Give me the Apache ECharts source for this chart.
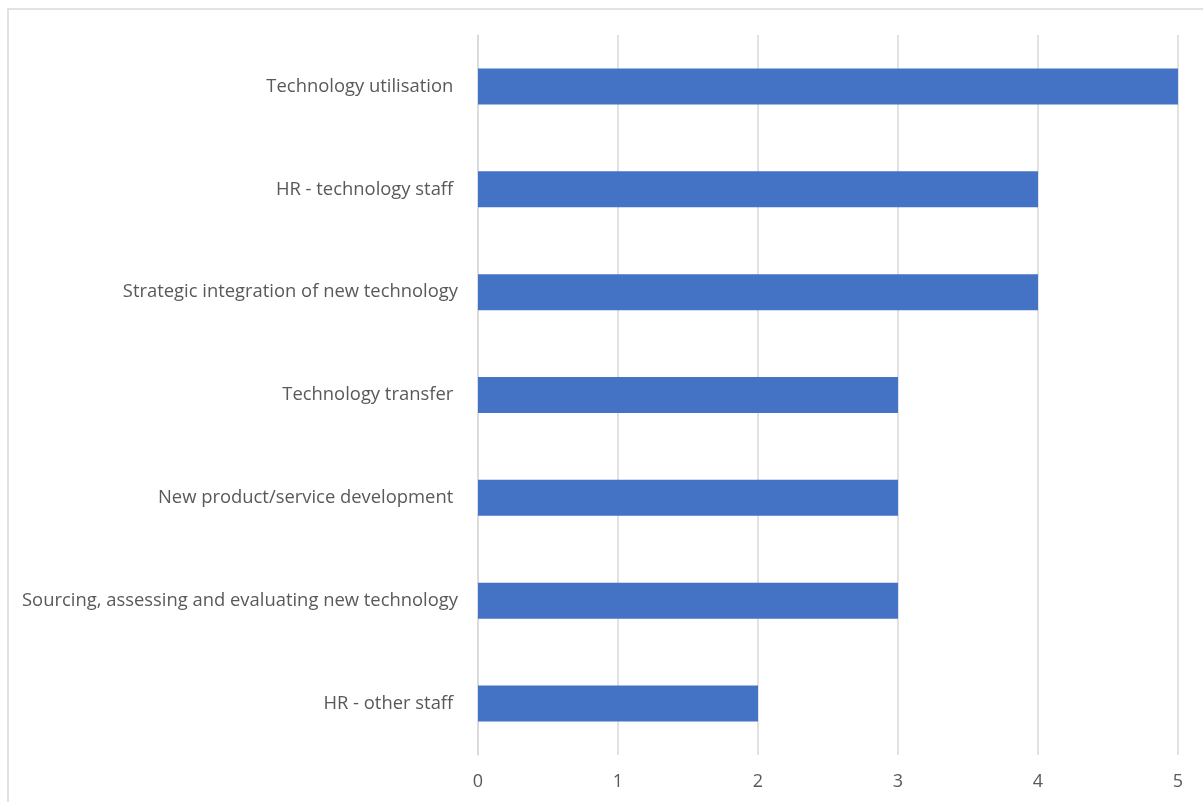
<!DOCTYPE html>
<html><head><meta charset="utf-8">
<script src="https://cdn.jsdelivr.net/npm/echarts@6/dist/echarts.min.js"></script>
<style>html,body{margin:0;padding:0;background:#fff}#c{width:1203px;height:802px}</style>
</head><body><div id="c"></div>
<script>
var categories = ["HR - other staff ", "Sourcing, assessing and evaluating new technology", "New product/service development ", "Technology transfer ", "Strategic integration of new technology", "HR - technology staff ", "Technology utilisation "];
var values = [2, 3, 3, 3, 4, 4, 5];
var xTicks = [0, 1, 2, 3, 4, 5];

var chart = echarts.init(document.getElementById('c'));
chart.setOption({
  animation: false,
  backgroundColor: '#fff',
  graphic: [{type: 'rect', shape: {x: 8, y: 9, width: 1200, height: 800}, style: {fill: 'none', stroke: '#d9d9d9', lineWidth: 1.5}, silent: true}],
  grid: {left: 478, right: 25, top: 35, bottom: 47, containLabel: false},
  xAxis: {
    type: 'value', min: xTicks[0], max: xTicks[xTicks.length - 1], interval: 1,
    axisLine: {show: false}, axisTick: {show: false},
    splitLine: {show: true, lineStyle: {color: '#d9d9d9', width: 1.5}},
    axisLabel: {color: '#595959', fontSize: 18, fontFamily: 'Open Sans', margin: 18}
  },
  yAxis: {
    type: 'category', data: categories,
    axisLine: {show: true, lineStyle: {color: '#d9d9d9', width: 1.5}},
    axisTick: {show: false},
    axisLabel: {color: '#595959', fontSize: 18.4, fontFamily: 'Open Sans', margin: 20}
  },
  series: [{type: 'bar', data: values, barWidth: '35%', itemStyle: {color: '#4472C4'}}]
});
</script></body></html>
